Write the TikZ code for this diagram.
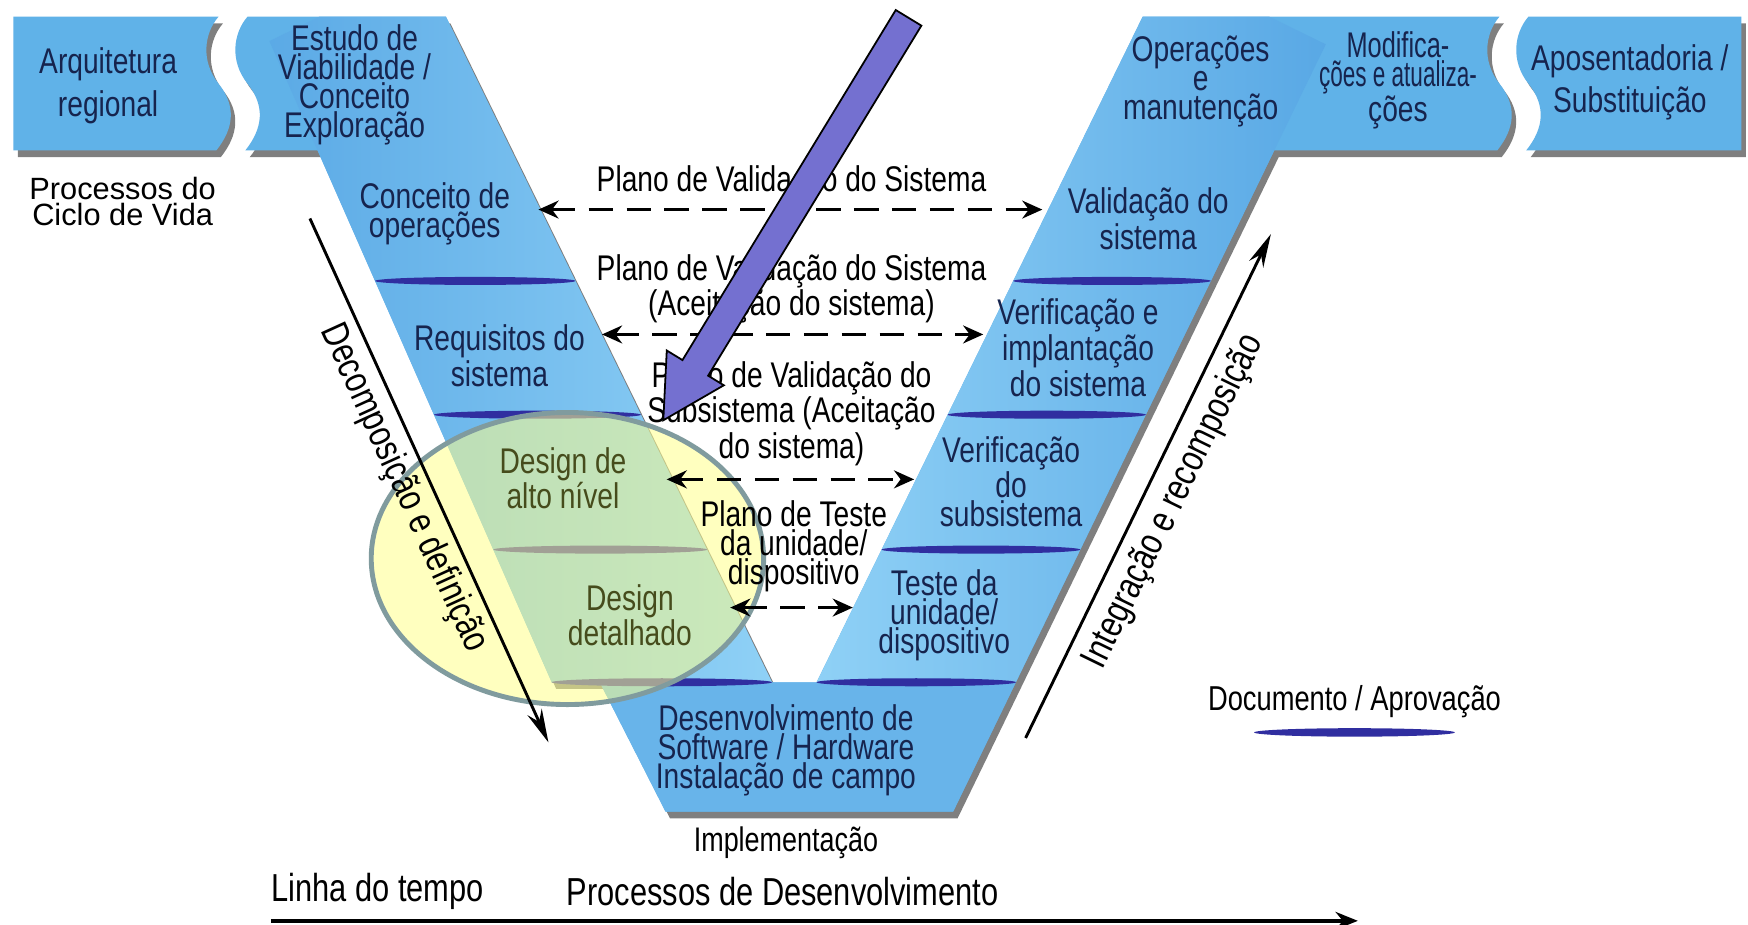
\documentclass[tikz,border=0pt]{standalone}
\usepackage{fontspec}
\usepackage{graphicx}
\setmainfont{Liberation Sans}[FakeStretch=0.79]
\newfontfamily\regfont{Liberation Sans}
\usetikzlibrary{arrows.meta,calc}
\definecolor{bandblue}{RGB}{96,178,232}
\definecolor{armdark}{RGB}{86,166,228}
\definecolor{armlight}{RGB}{150,214,248}
\definecolor{trapside}{RGB}{104,180,234}
\definecolor{trapmid}{RGB}{140,206,246}
\definecolor{navytxt}{RGB}{22,36,78}
\definecolor{olivetxt}{RGB}{70,76,28}
\definecolor{lenscol}{RGB}{48,46,160}
\definecolor{circfill}{RGB}{255,255,140}
\definecolor{circline}{RGB}{128,155,158}
\definecolor{purplearr}{RGB}{116,112,208}
\begin{document}
\begin{tikzpicture}[x=0.5pt,y=-0.5pt,
  bandtxt/.style={font=\fontsize{16}{13}\selectfont, text=navytxt, align=center, inner sep=0pt},
  bandtxtw/.style={font=\fontsize{16}{19}\selectfont, text=navytxt, align=center, inner sep=0pt},
  olivtxt/.style={font=\fontsize{16}{13}\selectfont, text=olivetxt, align=center, inner sep=0pt},
  blacktxt/.style={font=\fontsize{16}{12.8}\selectfont, text=black, align=center, inner sep=0pt},
  rottxt/.style={font=\fontsize{17.2}{13}\selectfont, text=black, inner sep=0pt},
  lens/.style={fill=lenscol},
  shadowfill/.style={fill=black, fill opacity=0.5},
  dasharr/.style={dash pattern=on 11pt off 6pt, line width=1.6pt, <->, >={Stealth[length=9pt,width=8pt]}},
  solidarr/.style={line width=1.3pt, -{Stealth[length=15pt,width=7pt]}}
]
\useasboundingbox (0,0) rectangle (1568,829);
\fill[white] (0,0) rectangle (1568,829);

% ---------- shadows ----------
\begin{scope}[shift={(4,6)}]
\fill[shadowfill] (12,15) -- (196,15) .. controls (183,30) and (180,55) .. (196,75)
  .. controls (212,95) and (210,115) .. (194,135) -- (12,135) -- cycle;
\fill[shadowfill] (222,15) -- (400,15) -- (692.5,612) -- (732.5,612) -- (1025,15) -- (1345,15)
  .. controls (1332,30) and (1329,55) .. (1345,75) .. controls (1361,95) and (1359,115) .. (1343,135)
  -- (1143,135) -- (855,728) -- (597,728) -- (538,612) -- (494.9,612) -- (285,135) -- (220,135)
  .. controls (236,115) and (238,95) .. (222,75) .. controls (206,55) and (209,30) .. (222,15) -- cycle;
\fill[shadowfill] (1371,15) -- (1562,15) -- (1562,135) -- (1369,135)
  .. controls (1385,115) and (1387,95) .. (1371,75) .. controls (1355,55) and (1358,30) .. (1371,15) -- cycle;
\end{scope}

% ---------- blue shapes ----------
\fill[bandblue] (12,15) -- (196,15) .. controls (183,30) and (180,55) .. (196,75)
  .. controls (212,95) and (210,115) .. (194,135) -- (12,135) -- cycle;
\fill[bandblue] (222,15) -- (400,15) -- (692.5,612) -- (732.5,612) -- (1025,15) -- (1345,15)
  .. controls (1332,30) and (1329,55) .. (1345,75) .. controls (1361,95) and (1359,115) .. (1343,135)
  -- (1143,135) -- (855,728) -- (597,728) -- (538,612) -- (494.9,612) -- (285,135) -- (220,135)
  .. controls (236,115) and (238,95) .. (222,75) .. controls (206,55) and (209,30) .. (222,15) -- cycle;
\fill[bandblue] (1371,15) -- (1562,15) -- (1562,135) -- (1369,135)
  .. controls (1385,115) and (1387,95) .. (1371,75) .. controls (1355,55) and (1358,30) .. (1371,15) -- cycle;

% left arm gradient
\begin{scope}
\clip (232,15) -- (400,15) -- (692.5,612) -- (494.9,612) -- cycle;
\begin{scope}[shift={(400,15)}, rotate=26.1]
\shade[left color=armdark, right color=armlight] (-200,-50) rectangle (0,800);
\end{scope}
\end{scope}
% right arm gradient
\begin{scope}
\clip (1025,15) -- (1201.3,15) -- (911.2,612) -- (732.5,612) -- cycle;
\begin{scope}[shift={(1025,15)}, rotate=-26.1]
\shade[left color=armlight, right color=armdark] (0,-50) rectangle (185,800);
\end{scope}
\end{scope}
% bottom trapezoid gradient
\begin{scope}
\clip (538,612) -- (911.2,612) -- (855,728) -- (597,728) -- cycle;
\shade[left color=trapside, middle color=trapmid, right color=trapside] (530,605) rectangle (915,730);
\end{scope}

% ---------- document / approval lenses ----------
\fill[lens] (426.3,252) ellipse [x radius=89.8, y radius=3.6];
\fill[lens] (482.1,372) ellipse [x radius=92.8, y radius=3.6];
\fill[lens] (538.4,493) ellipse [x radius=95.9, y radius=3.6];
\fill[lens] (593.7,612) ellipse [x radius=98.8, y radius=3.6];
\fill[lens] (997.5,252) ellipse [x radius=88.6, y radius=3.6];
\fill[lens] (939,372) ellipse [x radius=88.9, y radius=3.6];
\fill[lens] (879.9,493) ellipse [x radius=89.1, y radius=3.6];
\fill[lens] (821.9,612) ellipse [x radius=89.4, y radius=3.6];
\fill[lens] (1215,657) ellipse [x radius=90, y radius=3.8];

% ---------- highlight ellipse ----------
\draw[fill=circfill, fill opacity=0.55, draw=circline, line width=2.2pt] (509,501) ellipse [x radius=176, y radius=131];

% ---------- band texts ----------
\node[bandtxtw] (arq) at (97,77) {Arquitetura\\regional};
\node[bandtxt] (estudo) at (318,76) {Estudo de\\Viabilidade /\\Conceito\\Exploração};
\node[bandtxt] (oper) at (1077,73) {Operações\\e\\manutenção};
\node[bandtxt] (modif) at (1254,72) {\scalebox{0.9}[1]{Modifica-}\\\scalebox{0.8}[1]{ções e atualiza-}\\ções};
\node[bandtxtw] (apos) at (1462,74) {Aposentadoria /\\Substituição};

\node[font=\regfont\fontsize{13.8}{11.5}\selectfont, align=center, inner sep=0pt] (ciclo) at (110,181) {Processos do\\Ciclo de Vida};

% left arm
\node[bandtxt] (conops) at (390,192) {Conceito de\\operações};
\node[bandtxt] (req) at (448,319) {Requisitos do\\sistema};
\node[olivtxt] (hld) at (505,429) {Design de\\alto nível};
\node[olivtxt] (dd) at (565,552) {Design\\detalhado};
% right arm
\node[bandtxt] (valsis) at (1030,196) {Validação do\\sistema};
\node[bandtxt] (verimp) at (967,312) {Verificação e\\implantação\\do sistema};
\node[bandtxt] (versub) at (907,432) {Verificação\\do\\subsistema};
\node[bandtxt] (teste) at (847,552) {Teste da\\unidade/\\dispositivo};
% bottom
\node[bandtxt] (desenv) at (705,673) {Desenvolvimento de\\Software / Hardware\\Instalação de campo};
\node[blacktxt, font=\fontsize{15.3}{12}\selectfont] (impl) at (705,756) {Implementação};

% middle plan texts
\node[blacktxt] (p1) at (710,164) {Plano de Validação do Sistema};
\node[blacktxt] (p2) at (710,259) {Plano de Validação do Sistema\\(Aceitação do sistema)};
\node[blacktxt] (p3) at (710,371) {Plano de Validação do\\Subsistema (Aceitação\\do sistema)};
\node[blacktxt] (p4) at (712,490) {Plano de Teste\\da unidade/\\dispositivo};

% dashed arrows
\coordinate (a1l) at (483,188); \coordinate (a1r) at (935,188);
\coordinate (a2l) at (540,300); \coordinate (a2r) at (882,300);
\coordinate (a3l) at (598,430); \coordinate (a3r) at (820,430);
\coordinate (a4l) at (655,545); \coordinate (a4r) at (765,545);
\draw[dasharr] (a1l) -- (a1r);
\draw[dasharr] (a2l) -- (a2r);
\draw[dasharr] (a3l) -- (a3r);
\draw[dasharr] (a4l) -- (a4r);

% decomposition / integration arrows
\coordinate (dec1) at (278,196); \coordinate (dec2) at (492,666);
\draw[solidarr] (dec1) -- (dec2);
\node[rottxt, rotate=-65.5] (decomp) at (362,438) {Decomposição e definição};
\coordinate (int1) at (920,662); \coordinate (int2) at (1140,210);
\draw[solidarr] (int1) -- (int2);
\node[rottxt, rotate=64] (integr) at (1053,450) {Integração e recomposição};

% legend
\node[blacktxt, font=\fontsize{15.5}{12}\selectfont] (legend) at (1215,629) {Documento / Aprovação};

% timeline
\node[blacktxt, font=\fontsize{17.5}{13}\selectfont, anchor=west] (linha) at (243,800) {Linha do tempo};
\node[blacktxt, font=\fontsize{17.5}{13}\selectfont, anchor=west] (procdes) at (508,800) {Processos de Desenvolvimento};
\coordinate (t1) at (243,826); \coordinate (t2) at (1218,826);
\draw[line width=1.5pt, -{Stealth[length=10pt,width=8pt]}] (t1) -- (t2);

% big purple arrow
\fill[purplearr, draw=black, line width=0.8pt]
  (803.5,9) -- (826.5,23) -- (635.2,337) -- (649.3,345.6) -- (595,377) -- (598.1,314.4) -- (612.2,323) -- cycle;
\end{tikzpicture}
\end{document}
